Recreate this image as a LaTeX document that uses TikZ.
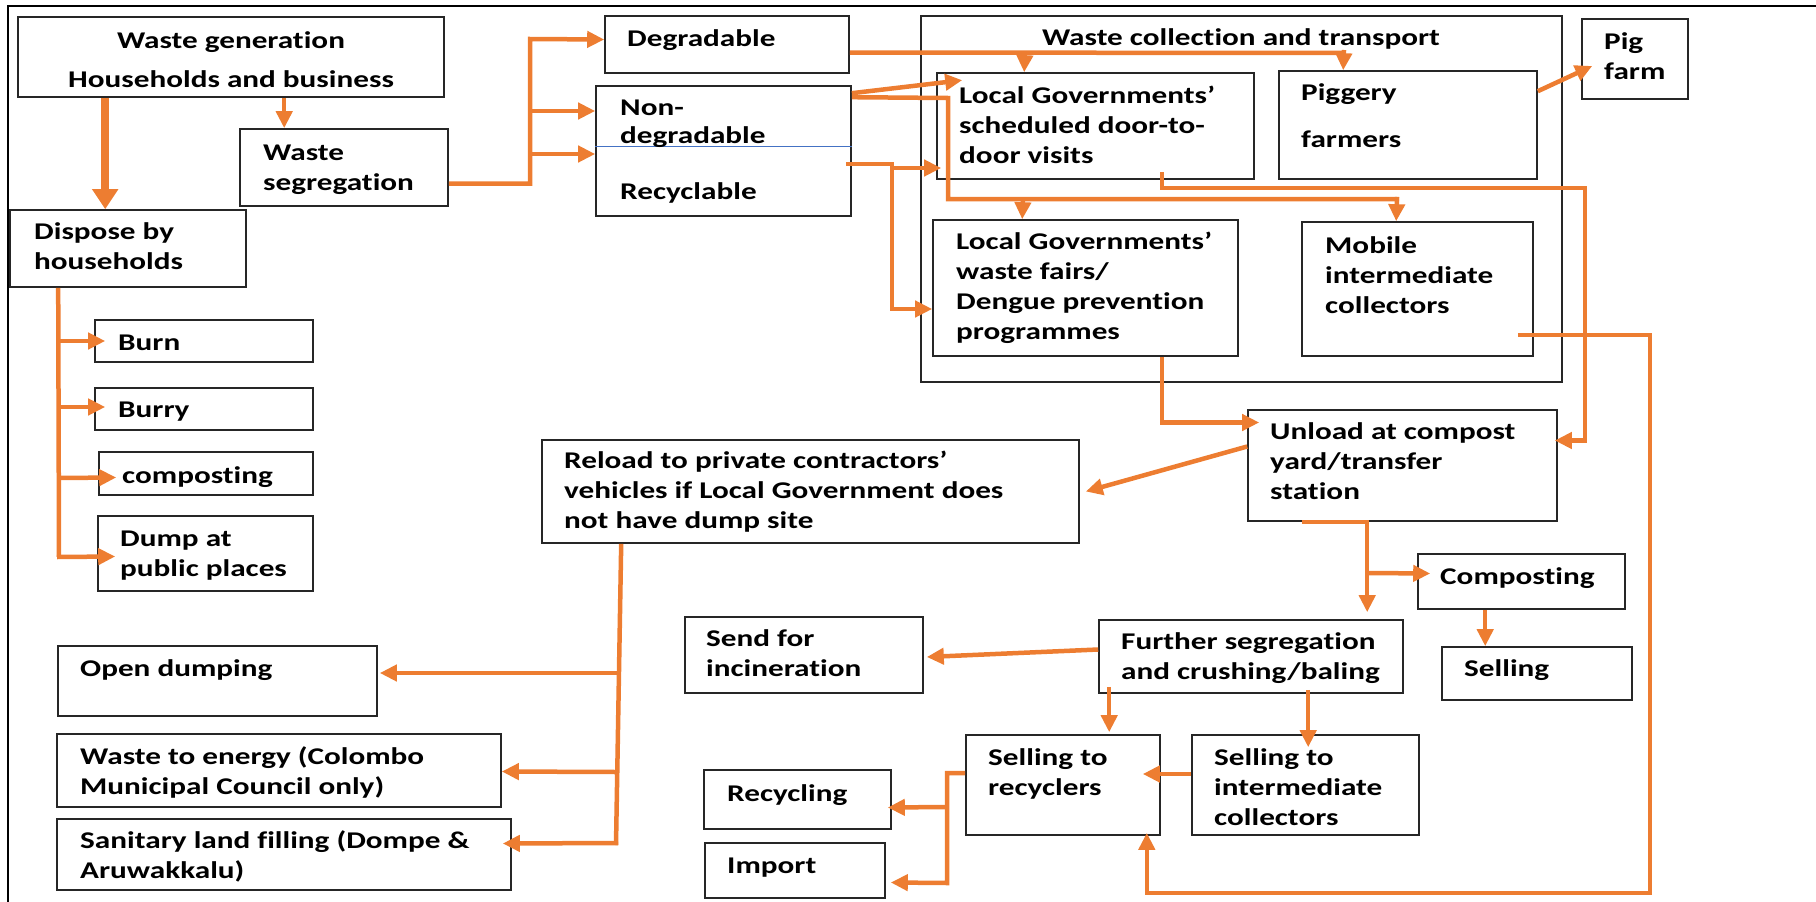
\documentclass[tikz,border=0pt]{standalone}
\usepackage{fontspec}
\setmainfont{Carlito}[FakeStretch=1.3, Ligatures=NoCommon]
\usetikzlibrary{arrows.meta,calc,fit}
\definecolor{wasteorange}{HTML}{ED7D31}
\definecolor{divblue}{HTML}{4472C4}

\begin{document}
\begin{tikzpicture}[x=1pt, y=-1pt, font=\bfseries\fontsize{24}{30}\selectfont,
  box/.style={draw=black!85, line width=1.6pt, inner sep=0pt, fit={#1}},
  txt/.style={inner sep=0pt, align=left, anchor=base west},
  ctxt/.style={inner sep=0pt, align=center, anchor=base},
  flow/.style={draw=wasteorange, line width=4.5pt, -{Triangle[length=17pt, width=16pt]}},
  link/.style={draw=wasteorange, line width=4.5pt},
  bigflow/.style={draw=wasteorange, line width=8pt, -{Triangle[length=20pt, width=25pt]}}]
  \useasboundingbox (0,0) rectangle (1816,902);
  \draw[line width=1.5pt] (8,902) -- (8,6) -- (1816,6);
  % households
  \node[box={(18,17) (444,97)}] (gen) {};
  \node[box={(240,129) (448,206)}] (seg) {};
  \node[box={(10,210) (246,287)}] (disp) {};
  \node[box={(95,320) (313,362)}] (burn) {};
  \node[box={(95,388) (313,430)}] (burry) {};
  \node[box={(99,452) (313,495)}] (homecomp) {};
  \node[box={(98,516) (313,591)}] (dump) {};
  \node[box={(605,16) (849,73)}] (degr) {};
  \node[box={(596,86) (851,216)}] (nondeg) {};
  \draw[divblue, line width=1pt] (nondeg.west |- 0,146) -- (nondeg.east |- 0,146);
  % collection and transport
  \node[box={(921,16) (1562,382)}] (collect) {};
  \node[box={(937,73) (1254,179)}] (lgone) {};
  \node[box={(1279,71) (1537,179)}] (piggery) {};
  \node[box={(933,220) (1238,356)}] (lgtwo) {};
  \node[box={(1302,222) (1533,356)}] (mobile) {};
  \node[box={(1582,19) (1688,99)}] (pigfarm) {};
  % treatment and disposal
  \node[box={(1248,410) (1557,521)}] (unload) {};
  \node[box={(542,440) (1079,543)}] (reload) {};
  \node[box={(1418,554) (1625,609)}] (compost) {};
  \node[box={(1442,647) (1632,700)}] (selling) {};
  \node[box={(1099,620) (1403,693)}] (further) {};
  \node[box={(685,617) (923,693)}] (send) {};
  \node[box={(966,735) (1160,835)}] (recyc) {};
  \node[box={(1192,735) (1419,835)}] (inter) {};
  \node[box={(704,770) (891,829)}] (recycling) {};
  \node[box={(705,843) (885,898)}] (import) {};
  \node[box={(58,646) (377,716)}] (opendump) {};
  \node[box={(57,734) (501,807)}] (energy) {};
  \node[box={(57,819) (511,890)}] (sanitary) {};
  % texts (placed at the baseline of their last line)
  \node[ctxt] (gen-t) at (231,87) {Waste generation\\[9pt]Households and business};
  \node[txt] (seg-t) at (263,190) {Waste\\segregation};
  \node[txt] (disp-t) at (34,269) {Dispose by\\households};
  \node[txt] (burn-t) at (118,350) {Burn};
  \node[txt] (burry-t) at (118,417) {Burry};
  \node[txt] (homecomp-t) at (122,483) {composting};
  \node[txt] (dump-t) at (120,576) {Dump at\\public places};
  \node[txt] (degr-t) at (627,46) {Degradable};
  \node[txt] (nondeg-t) at (620,143) {Non-\\[-2pt]degradable};
  \node[txt] (recycl-t) at (620,199) {Recyclable};
  \node[ctxt] (collect-t) at (1241,45) {Waste collection and transport};
  \node[txt] (lgone-t) at (959,163) {Local Governments’\\scheduled door-to-\\door visits};
  \node[txt] (piggery-t) at (1301,147) {Piggery\\[17pt]farmers};
  \node[txt] (lgtwo-t) at (956,339) {Local Governments’\\waste fairs/\\Dengue prevention\\programmes};
  \node[txt] (mobile-t) at (1325,313) {Mobile\\intermediate\\collectors};
  \node[txt] (pigfarm-t) at (1604,79) {Pig\\farm};
  \node[txt] (unload-t) at (1270,499) {Unload at compost\\yard/transfer\\station};
  \node[txt] (reload-t) at (564,528) {Reload to private contractors’\\vehicles if Local Government does\\not have dump site};
  \node[txt] (compost-t) at (1440,584) {Composting};
  \node[txt] (selling-t) at (1464,676) {Selling};
  \node[txt] (further-t) at (1121,679) {Further segregation\\and crushing/baling};
  \node[txt] (send-t) at (706,676) {Send for\\incineration};
  \node[txt] (recyc-t) at (988,795) {Selling to\\recyclers};
  \node[txt] (inter-t) at (1214,825) {Selling to\\intermediate\\collectors};
  \node[txt] (recycling-t) at (727,801) {Recycling};
  \node[txt] (import-t) at (727,873) {Import};
  \node[txt] (opendump-t) at (80,676) {Open dumping};
  \node[txt] (energy-t) at (80,794) {Waste to energy (Colombo\\Municipal Council only)};
  \node[txt] (sanitary-t) at (80,878) {Sanitary land filling (Dompe \&\\Aruwakkalu)};
  % households flows
  \draw[bigflow] ([xshift=88pt]gen.south west) -- ([xshift=96pt]disp.north west);
  \draw[flow] ([xshift=45pt]seg.north west |- gen.south) -- ([xshift=45pt]seg.north west);
  \draw[link] ([xshift=49pt]disp.south west) -- (59,557);
  \draw[flow] (59,341) -- ([xshift=11pt,yshift=0pt]burn.west);
  \draw[flow] (59,407) -- ([xshift=11pt,yshift=2pt]burry.west);
  \draw[flow] (59,478) -- ([xshift=18pt,yshift=-4pt]homecomp.west);
  \draw[flow] (57,557) -- ([xshift=18pt,yshift=-3pt]dump.west);
  % segregation flows
  \draw[flow] ([yshift=-16pt]seg.east) -| (530,39) -- ([yshift=5pt]degr.west);
  \draw[flow] (530,111) -- (nondeg.west |- 0,111);
  \draw[flow] (530,154) -- (nondeg.west |- 0,154);
  \draw[link] ([yshift=-8pt]degr.east) -- (1344,53);
  \draw[flow] (1344,50) -- ([xshift=65pt]piggery.north west);
  \draw[flow] (1025,53) -- ([xshift=88pt]lgone.north west);
  \draw[flow] ([yshift=-8pt]nondeg.north east) -- ([xshift=26pt,yshift=-8pt]lgone.north west);
  \draw[link] ([yshift=-12pt]nondeg.north east) -- (948,98) |- (1399,199);
  \draw[flow] (1397,197) -- ([xshift=95pt]mobile.north west);
  \draw[flow] (1023,199) -- ([xshift=90pt]lgtwo.north west);
  \draw[flow] ([xshift=-6pt,yshift=-13pt]nondeg.east) -- (892,164) |- (lgtwo.west |- 0,309);
  \draw[flow] (892,168) -- ([xshift=5pt]lgone.west |- 0,168);
  % collection flows
  \draw[flow] (lgone.south west |- 0,172) ++(226,0) |- (1585,188) |- ([xshift=-3pt,yshift=25pt]unload.east);
  \draw[flow] ([xshift=230pt]lgtwo.south west) |- ([xshift=12pt,yshift=43pt]unload.west);
  \draw[flow] ([xshift=-16pt,yshift=22pt]mobile.south east) -| (1650,893) -| ([xshift=-14pt,yshift=3pt]recyc.south east);
  \draw[flow] ([yshift=-21pt]piggery.north east) -- ([xshift=11pt,yshift=-7pt]pigfarm.west);
  % treatment flows
  \draw[flow] ([yshift=19pt]unload.west) -- ([xshift=6pt]reload.east);
  \draw[flow] ([xshift=55pt]unload.south west) -| ([xshift=269pt,yshift=7pt]further.north west);
  \draw[flow] (1368,573) -- ([xshift=13pt,yshift=8pt]compost.west);
  \draw[flow] ([xshift=68pt]compost.south west) -- ([xshift=44pt]selling.north west);
  \draw[flow] ([yshift=7pt]further.west) -- ([xshift=3pt,yshift=-2pt]send.east);
  \draw[flow] ([xshift=11pt,yshift=7pt]further.south west) -- ([xshift=144pt,yshift=2pt]recyc.north west);
  \draw[flow] ([xshift=210pt,yshift=4pt]further.south west) -- ([xshift=117pt,yshift=-13pt]inter.north west);
  \draw[flow] ([yshift=11pt]inter.west) -- ([xshift=-18pt,yshift=11pt]recyc.east);
  \draw[flow] ([yshift=12pt]recyc.west) -| (947,883) -- ([xshift=5pt,yshift=-12pt]import.east);
  \draw[flow] (947,807) -- ([xshift=-4pt,yshift=-8pt]recycling.east);
  % disposal flows
  \draw[link] ([xshift=80pt]reload.south west) -- (616,845);
  \draw[flow] (617,673) -- ([xshift=2pt,yshift=8pt]opendump.east);
  \draw[flow] (616,772) -- ([yshift=-1pt]energy.east);
  \draw[flow] (618,843) -- ([xshift=-9pt,yshift=11pt]sanitary.east);
\end{tikzpicture}
\end{document}
